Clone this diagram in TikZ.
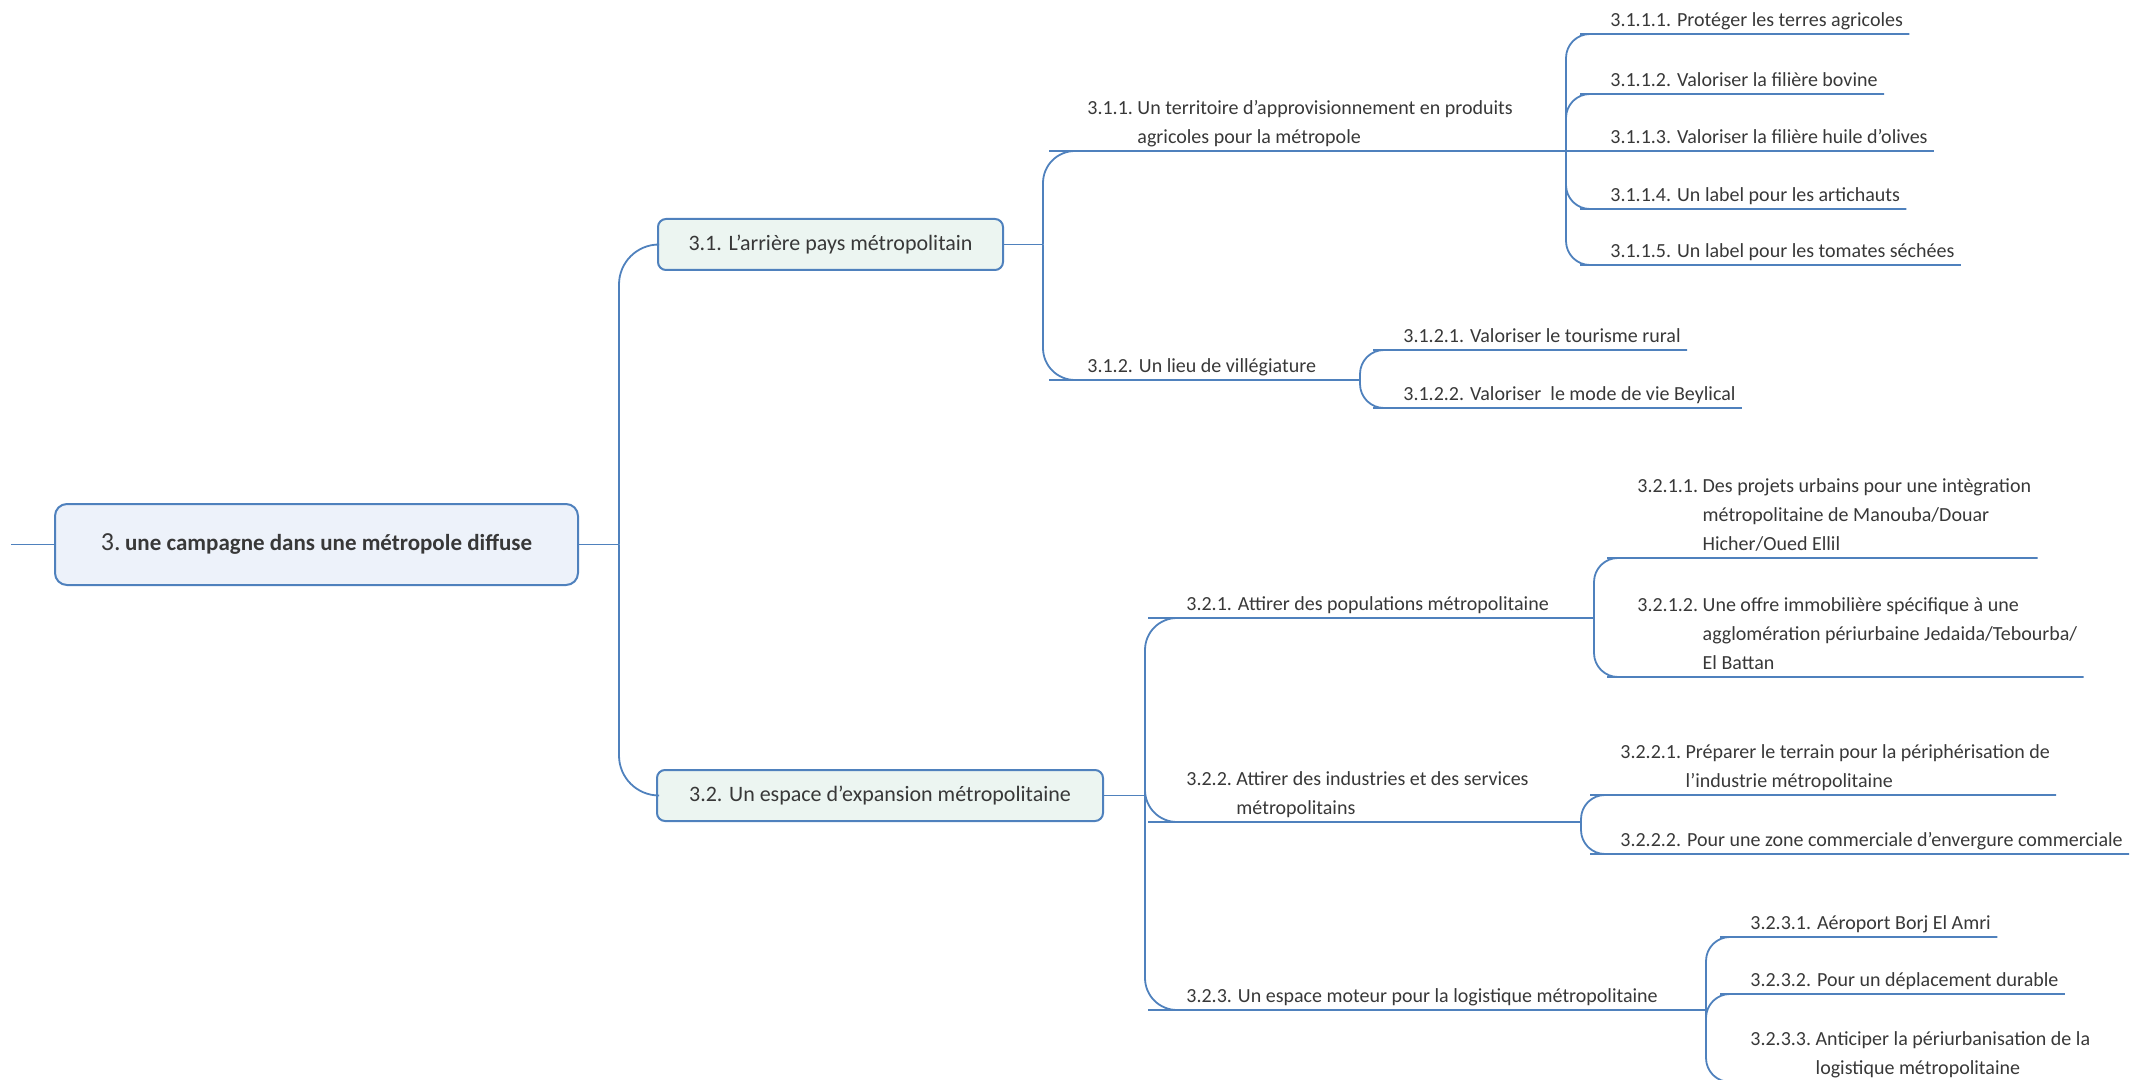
\documentclass[tikz,border=0pt]{standalone}
\usepackage{fontspec}
\setmainfont{Carlito}

\definecolor{mapblue}{HTML}{4F81BD}
\definecolor{mapink}{HTML}{383838}
\definecolor{rootfill}{HTML}{EDF2FA}
\definecolor{boxfill}{HTML}{ECF5F1}

\newcommand{\hangtopic}[2]{\begin{tabular}[b]{@{}l@{\ }l@{}}#1&#2\end{tabular}}

\tikzset{
  mapline/.style={draw=mapblue, line width=0.9pt},
  branch/.style={mapline, rounded corners=16pt},
  twig/.style={mapline, rounded corners=12pt},
  bigbox/.style={draw=mapblue, line width=1pt, fill=rootfill, rounded corners=6pt,
    minimum width=261.5pt, minimum height=40.5pt, text=mapink},
  subbox/.style={draw=mapblue, line width=1pt, fill=boxfill, rounded corners=4pt,
    minimum height=25.5pt, font=\fontsize{11}{13}\selectfont, text=mapink},
  idea/.style={anchor=south west, inner xsep=3pt, inner ysep=3.5pt, text depth=0pt,
    font=\fontsize{10}{14.5}\selectfont, text=mapink},
}

\begin{document}
\begin{tikzpicture}[x=0.5pt, y=-0.5pt]
    \path[use as bounding box] (0,0) rectangle (2147,1080);
    \clip (0,0) rectangle (2147,1080);

    % Boxes
    \node[bigbox] (root) at (316.5,544.5) {{\fontsize{13}{15}\selectfont 3.}\ {\bfseries\fontsize{11.5}{14}\selectfont une campagne dans une métropole diffuse}};
    \node[subbox, minimum width=172.5pt] (arriere) at (830.5,244.5) {3.1. L'arrière pays métropolitain};
    \node[subbox, minimum width=223pt] (expansion) at (880,795.5) {3.2. Un espace d'expansion métropolitaine};

    % Junctions
    \coordinate (stub) at (11,544.5);
    \coordinate (j0) at (619,544.5);
    \coordinate (j31) at (1043,244.5);
    \coordinate (j32) at (1145,795.5);
    \coordinate (j311) at (1566,151);
    \coordinate (j312) at (1360,380);
    \coordinate (j321) at (1594,618);
    \coordinate (j322) at (1581,822);
    \coordinate (j323) at (1706,1010);

    % Topics
    \node[idea] (territoire) at (1081,151) {\hangtopic{3.1.1.}{Un territoire d'approvisionnement en produits\\&agricoles pour la métropole}};
    \node[idea] (villegiature) at (1081,380) {3.1.2. Un lieu de villégiature};
    \node[idea] (populations) at (1180,618) {3.2.1. Attirer des populations métropolitaine};
    \node[idea] (industries) at (1180,822) {\hangtopic{3.2.2.}{Attirer des industries et des services\\&métropolitains}};
    \node[idea] (moteur) at (1180,1010) {3.2.3. Un espace moteur pour la logistique métropolitaine};

    % Subtopics
    \node[idea] (terres) at (1604,34) {3.1.1.1. Protéger les terres agricoles};
    \node[idea] (bovine) at (1604,94) {3.1.1.2. Valoriser la filière bovine};
    \node[idea] (olives) at (1604,151) {3.1.1.3. Valoriser la filière huile d'olives};
    \node[idea] (artichauts) at (1604,209) {3.1.1.4. Un label pour les artichauts};
    \node[idea] (tomates) at (1604,265) {3.1.1.5. Un label pour les tomates séchées};
    \node[idea] (tourisme) at (1397,350) {3.1.2.1. Valoriser le tourisme rural};
    \node[idea] (beylical) at (1397,408) {3.1.2.2. Valoriser\ \ le mode de vie Beylical};
    \node[idea] (manouba) at (1631,558) {\hangtopic{3.2.1.1.}{Des projets urbains pour une intègration\\&métropolitaine de Manouba/Douar\\&Hicher/Oued Ellil}};
    \node[idea] (jedaida) at (1631,677) {\hangtopic{3.2.1.2.}{Une offre immobilière spécifique à une\\&agglomération périurbaine Jedaida/Tebourba/\\&El Battan}};
    \node[idea] (peripherie) at (1614,795) {\hangtopic{3.2.2.1.}{Préparer le terrain pour la périphérisation de\\&l'industrie métropolitaine}};
    \node[idea] (commerce) at (1614,854) {3.2.2.2. Pour une zone commerciale d'envergure commerciale};
    \node[idea] (aeroport) at (1744,937) {3.2.3.1. Aéroport Borj El Amri};
    \node[idea] (deplacement) at (1744,994) {3.2.3.2. Pour un déplacement durable};
    \node[idea] (periurbain) at (1744,1082) {\hangtopic{3.2.3.3.}{Anticiper la périurbanisation de la\\&logistique métropolitaine}};

    % Main branches
    \draw[mapline] (stub) -- (root.west);
    \draw[mapline] (root.east) -- (j0);
    \draw[branch, rounded corners=20pt] (j0) |- (arriere.west);
    \draw[branch, rounded corners=20pt] (j0) |- (expansion.west);
    \draw[mapline] (arriere.east) -- (j31);
    \draw[mapline] (expansion.east) -- (j32);

    % Topic branches
    \draw[branch] (j31) |- (territoire.south west) -- (j311);
    \draw[branch] (j31) |- (villegiature.south west) -- (j312);
    \draw[branch] (j32) |- (populations.south west) -- (j321);
    \draw[branch] (j32) |- (industries.south west) -- (j322);
    \draw[branch] (j32) |- (moteur.south west) -- (j323);

    % Subtopic branches
    \draw[twig] (j311) |- (terres.south west) -- (terres.south east);
    \draw[twig] (j311) |- (bovine.south west) -- (bovine.south east);
    \draw[twig] (j311) -- (olives.south west) -- (olives.south east);
    \draw[twig] (j311) |- (artichauts.south west) -- (artichauts.south east);
    \draw[twig] (j311) |- (tomates.south west) -- (tomates.south east);
    \draw[twig] (j312) |- (tourisme.south west) -- (tourisme.south east);
    \draw[twig] (j312) |- (beylical.south west) -- (beylical.south east);
    \draw[twig] (j321) |- (manouba.south west) -- (manouba.south east);
    \draw[twig] (j321) |- (jedaida.south west) -- (jedaida.south east);
    \draw[twig] (j322) |- (peripherie.south west) -- (peripherie.south east);
    \draw[twig] (j322) |- (commerce.south west) -- (commerce.south east);
    \draw[twig] (j323) |- (aeroport.south west) -- (aeroport.south east);
    \draw[twig] (j323) |- (deplacement.south west) -- (deplacement.south east);
    \draw[twig] (j323) |- (periurbain.south west) -- (periurbain.south east);

\end{tikzpicture}
\end{document}
